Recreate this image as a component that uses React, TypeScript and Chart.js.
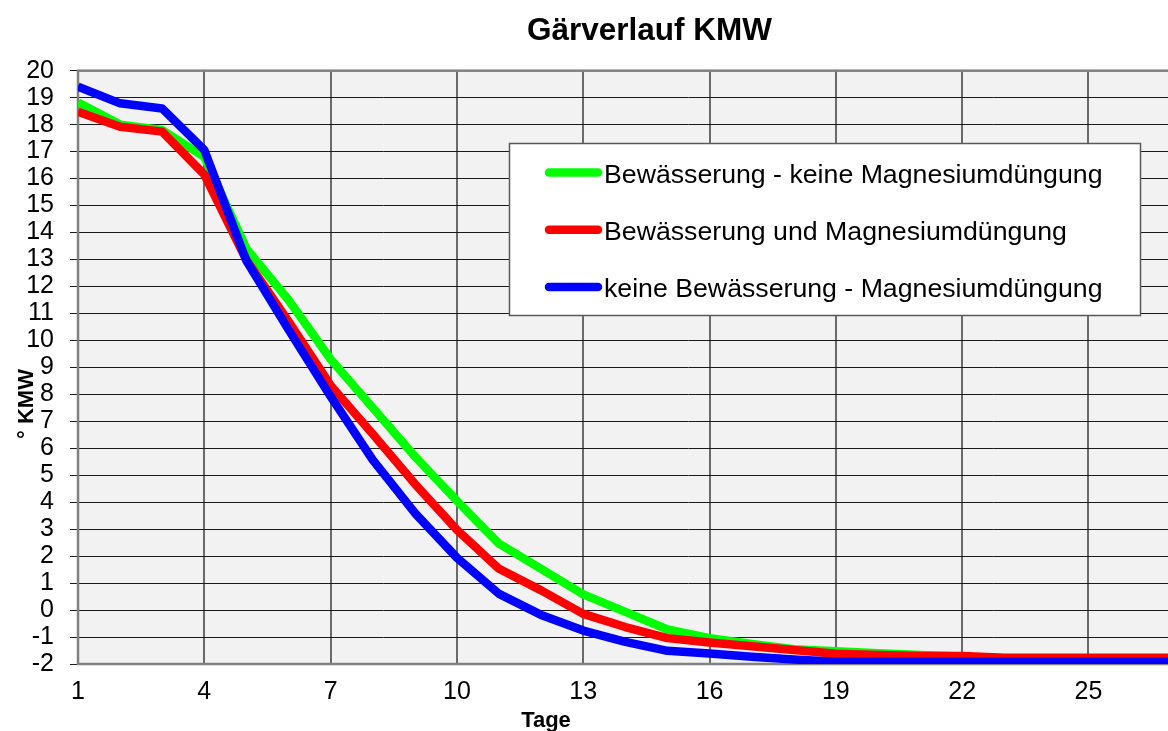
import React, { useEffect, useRef } from "react";
import { Chart, registerables } from "chart.js";

Chart.register(...registerables);

const DAYS = [1, 2, 3, 4, 5, 6, 7, 8, 9, 10, 11, 12, 13, 14, 15, 16, 17, 18, 19, 20, 21, 22, 23, 24, 25, 26, 27];
const X_TICKS = [1, 4, 7, 10, 13, 16, 19, 22, 25, 28];
const TITLE = "Gärverlauf KMW";
const X_TITLE = "Tage";
const Y_TITLE = "° KMW";
const LABELS = [
  "Bewässerung - keine Magnesiumdüngung",
  "Bewässerung und Magnesiumdüngung",
  "keine Bewässerung - Magnesiumdüngung",
];
const COLORS = ["#00ff00", "#ff0000", "#0000ff"];
const GREEN = [18.82, 18.0, 17.8, 16.8, 13.4, 11.5, 9.3, 7.5, 5.7, 4.05, 2.46, 1.53, 0.58, -0.07, -0.72, -1.04, -1.26, -1.45, -1.53, -1.6, -1.67, -1.72, -1.79, -1.79, -1.79, -1.79, -1.79];
const RED = [18.48, 17.92, 17.74, 16.15, 12.98, 10.7, 8.33, 6.53, 4.68, 2.97, 1.53, 0.73, -0.14, -0.63, -1.04, -1.2, -1.34, -1.48, -1.62, -1.67, -1.7, -1.7, -1.77, -1.77, -1.77, -1.77, -1.77];
const BLUE = [19.41, 18.79, 18.6, 17.06, 12.95, 10.4, 7.92, 5.57, 3.6, 1.94, 0.6, -0.18, -0.76, -1.18, -1.51, -1.61, -1.73, -1.83, -1.92, -1.92, -1.92, -1.92, -1.92, -1.92, -1.92, -1.92, -1.92];
const SERIES = [GREEN, RED, BLUE];

const FONT = "'Liberation Sans', Arial, sans-serif";

const decorPlugin = {
  id: "decor",
  beforeDraw(chart: any) {
    const { ctx, chartArea } = chart;
    const { left, top, right, bottom } = chartArea;
    ctx.save();
    ctx.fillStyle = "#f2f2f2";
    ctx.fillRect(left, top, right - left, bottom - top);
    ctx.restore();
  },
  beforeDatasetsDraw(chart: any) {
    const { ctx, chartArea } = chart;
    const { left, top, right, bottom } = chartArea;
    ctx.save();
    ctx.strokeStyle = "#808080";
    ctx.lineWidth = 2.5;
    ctx.strokeRect(left, top, right - left, bottom - top);
    ctx.restore();
  },
  afterDatasetsDraw(chart: any) {
    const { ctx } = chart;
    ctx.save();
    const bx = 509.5, by = 143.5, bw = 631, bh = 172;
    ctx.fillStyle = "#ffffff";
    ctx.fillRect(bx, by, bw, bh);
    ctx.strokeStyle = "#595959";
    ctx.lineWidth = 1.5;
    ctx.strokeRect(bx, by, bw, bh);
    ctx.font = `26.7px ${FONT}`;
    ctx.textBaseline = "alphabetic";
    ctx.textAlign = "left";
    chart.data.datasets.forEach((ds: any, i: number) => {
      const ly = 172.5 + i * 57.2;
      ctx.strokeStyle = ds.borderColor;
      ctx.lineWidth = 8.5;
      ctx.lineCap = "round";
      ctx.beginPath();
      ctx.moveTo(549, ly);
      ctx.lineTo(598, ly);
      ctx.stroke();
      ctx.fillStyle = "#000";
      ctx.fillText(ds.label, 604, ly + 10.5);
    });
    ctx.fillStyle = "#000";
    ctx.font = `bold 22px ${FONT}`;
    ctx.textAlign = "center";
    ctx.textBaseline = "alphabetic";
    ctx.fillText(X_TITLE, 546, 727);
    ctx.translate(33, 404);
    ctx.rotate(-Math.PI / 2);
    ctx.fillText(Y_TITLE, 0, 0);
    ctx.restore();
  },
};

export default function App() {
  const ref = useRef<HTMLCanvasElement>(null);
  useEffect(() => {
    if (!ref.current) return;
    const chart = new Chart(ref.current, {
      type: "line",
      data: {
        datasets: SERIES.map((s, i) => ({
          label: LABELS[i],
          data: s.map((v, j) => ({ x: DAYS[j], y: v })),
          borderColor: COLORS[i],
          backgroundColor: COLORS[i],
          borderWidth: 8.5,
          pointRadius: 0,
          tension: 0,
          borderJoinStyle: "round" as const,
          fill: false,
          order: SERIES.length - 1 - i,
        })),
      },
      options: {
        animation: false,
        responsive: false,
        devicePixelRatio: 1,
        layout: { padding: { left: 0, right: 1, top: 0, bottom: 0 } },
        plugins: {
          legend: { display: false },
          tooltip: { enabled: false },
          title: {
            display: true,
            text: TITLE,
            color: "#000",
            font: { family: FONT, size: 31.5, weight: "bold" },
            padding: { top: 12, bottom: 20.9 },
          },
        },
        scales: {
          x: {
            type: "linear",
            min: 1,
            max: 30,
            afterBuildTicks: (scale: any) => {
              scale.ticks = X_TICKS.map((v) => ({ value: v }));
            },
            afterFit: (scale: any) => {
              scale.height = 67;
            },
            grid: { color: "#6a6a6a", lineWidth: 2, drawTicks: false },
            border: { display: false },
            ticks: {
              color: "#000",
              font: { family: FONT, size: 25 },
              padding: 13,
              autoSkip: false,
              maxRotation: 0,
              callback: (v: any) => String(v),
            },
          },
          y: {
            type: "linear",
            min: -2,
            max: 20,
            afterFit: (scale: any) => {
              scale.width = 78;
            },
            grid: { color: "#1a1a1a", lineWidth: 1, drawTicks: true, tickLength: 8 },
            border: { display: false },
            ticks: {
              stepSize: 1,
              color: "#000",
              font: { family: FONT, size: 25 },
              padding: 16,
              autoSkip: false,
            },
          },
        },
      },
      plugins: [decorPlugin],
    });
    return () => chart.destroy();
  }, []);
  return (
    <div style={{ position: "fixed", left: 0, top: 0, width: 1168, height: 731, overflow: "hidden", background: "#fff" }}>
      <canvas ref={ref} width={1300} height={731} style={{ display: "block", width: 1300, height: 731 }} />
    </div>
  );
}
